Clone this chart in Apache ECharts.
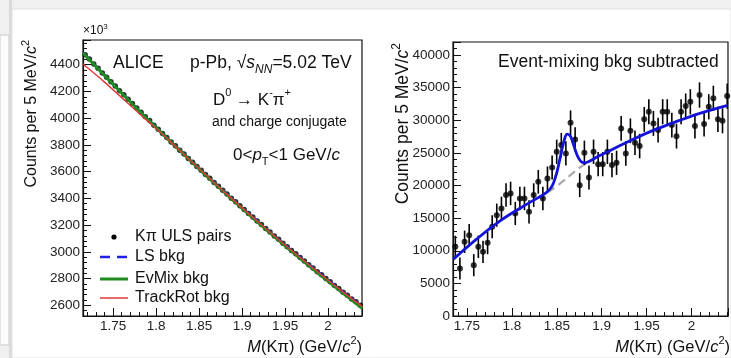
<!DOCTYPE html>
<html>
<head>
<meta charset="utf-8">
<script src="https://cdn.jsdelivr.net/npm/echarts@6/dist/echarts.min.js"></script>
<style>
  html, body { margin: 0; padding: 0; background: #f0f0f0; }
  #chart { width: 731px; height: 358px; }
</style>
</head>
<body>
<div id="chart"></div>
<script>
// left panel: invariant mass, counts in units of 10^3
const leftMass = [1.7175, 1.7225, 1.7275, 1.7325, 1.7375, 1.7425, 1.7475, 1.7525, 1.7575, 1.7625,
  1.7675, 1.7725, 1.7775, 1.7825, 1.7875, 1.7925, 1.7975, 1.8025, 1.8075, 1.8125,
  1.8175, 1.8225, 1.8275, 1.8325, 1.8375, 1.8425, 1.8475, 1.8525, 1.8575, 1.8625,
  1.8675, 1.8725, 1.8775, 1.8825, 1.8875, 1.8925, 1.8975, 1.9025, 1.9075, 1.9125,
  1.9175, 1.9225, 1.9275, 1.9325, 1.9375, 1.9425, 1.9475, 1.9525, 1.9575, 1.9625,
  1.9675, 1.9725, 1.9775, 1.9825, 1.9875, 1.9925, 1.9975, 2.0025, 2.0075, 2.0125,
  2.0175, 2.0225, 2.0275, 2.0325, 2.0375];
const ulsPairs = [4475, 4442, 4406, 4374, 4339, 4307, 4272, 4241, 4206, 4175,
  4141, 4110, 4076, 4045, 4011, 3982, 3948, 3918, 3885, 3855,
  3822, 3793, 3760, 3732, 3699, 3671, 3638, 3610, 3578, 3550,
  3519, 3491, 3460, 3433, 3401, 3375, 3344, 3317, 3287, 3260,
  3230, 3204, 3174, 3149, 3119, 3094, 3064, 3039, 3010, 2985,
  2957, 2932, 2904, 2880, 2852, 2828, 2800, 2776, 2749, 2725,
  2698, 2675, 2648, 2626, 2600];
const bkgMass = [1.715, 1.74, 1.765, 1.79, 1.815, 1.84, 1.865, 1.89, 1.915, 1.94, 1.965, 1.99, 2.015, 2.04];
const lsBkg = [4490, 4322, 4157, 3996, 3840, 3686, 3534, 3388, 3246, 3106, 2972, 2841, 2713, 2589];
const evMixBkg = [4488, 4320, 4155, 3993, 3836, 3682, 3530, 3383, 3240, 3100, 2964, 2832, 2703, 2576];
const trackRotBkg = [4405, 4270, 4125, 3980, 3834, 3683, 3533, 3387, 3245, 3106, 2971, 2840, 2712, 2590];

// right panel: event-mixing background subtracted (positions)
const rightMass = [1.7371, 1.7422, 1.7474, 1.7525, 1.7576, 1.7627, 1.7679, 1.7730, 1.7781, 1.7832,
  1.7884, 1.7935, 1.7986, 1.8038, 1.8089, 1.8140, 1.8191, 1.8243, 1.8294, 1.8345,
  1.8396, 1.8448, 1.8499, 1.8550, 1.8601, 1.8653, 1.8704, 1.8755, 1.8807, 1.8858,
  1.8909, 1.8960, 1.9011, 1.9063, 1.9114, 1.9165, 1.9216, 1.9268, 1.9319, 1.9370,
  1.9422, 1.9473, 1.9524, 1.9575, 1.9627, 1.9678, 1.9729, 1.9780, 1.9832, 1.9883,
  1.9934, 1.9986, 2.0037, 2.0088, 2.0139, 2.0191, 2.0242, 2.0293, 2.0344, 2.0396];
const signalCounts = [10600, 7280, 11370, 12390, 7790, 10600, 9830, 11210, 13670, 15460,
  16490, 18530, 18790, 15720, 18020, 18020, 15970, 18530, 20570, 18020,
  21090, 22780, 25170, 26200, 24920, 29620, 27070, 20060, 25020, 21240,
  25170, 23280, 23280, 25170, 23130, 23490, 28760, 24920, 28390, 26550,
  26040, 30140, 31310, 29520, 28500, 31310, 31310, 29260, 27570, 31310,
  32180, 32840, 29110, 33870, 29420, 32070, 33360, 30140, 29930, 33710];
const countErrors = [1700, 1700, 1720, 1720, 1700, 1720, 1720, 1740, 1760, 1780,
  1790, 1800, 1800, 1780, 1800, 1800, 1790, 1810, 1820, 1810,
  1830, 1840, 1860, 1870, 1860, 1900, 1880, 1830, 1870, 1840,
  1870, 1860, 1860, 1870, 1860, 1860, 1900, 1870, 1900, 1880,
  1880, 1910, 1920, 1910, 1900, 1920, 1920, 1910, 1900, 1920,
  1930, 1930, 1910, 1940, 1910, 1930, 1940, 1920, 1920, 1940];
const fitMass = [1.735, 1.76, 1.785, 1.81, 1.825, 1.835, 1.84, 1.845, 1.849, 1.852, 1.855, 1.858,
  1.8615, 1.865, 1.868, 1.871, 1.874, 1.878, 1.882, 1.885, 1.89, 1.895, 1.91, 1.935,
  1.96, 1.985, 2.01, 2.04];
const fitCounts = [8700, 11700, 14400, 16600, 17800, 18610, 19110, 20000, 21500, 23150, 25070, 26800,
  27870, 27580, 26510, 25250, 24260, 23570, 23490, 23650, 24000, 24400, 25400, 27100,
  28600, 29900, 31100, 32300];
const bkgOnlyMass = [1.84, 1.845, 1.86, 1.875, 1.885, 1.89];
const bkgOnlyCounts = [19000, 19400, 21000, 22700, 23600, 24000];

const FONT = 'Liberation Sans, Arial, Helvetica, sans-serif';
const INK = '#111';

function multipleOf(step) {
  return v => {
    const k = v / step;
    return Math.abs(k - Math.round(k)) < 1e-6 ? String(+v.toFixed(3)) : '';
  };
}

function rootAxis(gridIndex, min, max, extra, labelStep) {
  return Object.assign({
    type: 'value',
    gridIndex: gridIndex,
    min: min,
    max: max,
    axisLine: { show: true, onZero: false, lineStyle: { color: INK, width: 1.2 } },
    axisTick: { show: true, inside: true, length: 8, lineStyle: { color: INK, width: 1 } },
    minorTick: { show: true, splitNumber: 5, length: 4, lineStyle: { color: INK, width: 1 } },
    splitLine: { show: false },
    axisLabel: { color: '#222', fontSize: 13.5, fontFamily: FONT, margin: 3, formatter: multipleOf(labelStep) }
  }, extra);
}

// rich styles do not inherit the size, so build them per label size
function richFor(size) {
  const small = Math.round(size * 0.66);
  return {
    n: { fontSize: size, fontFamily: FONT, fill: '#111' },
    i: { fontSize: size, fontStyle: 'italic', fontFamily: FONT, fill: '#111' },
    sup: { fontSize: small, verticalAlign: 'top', fontFamily: FONT, fill: '#111' },
    sub: { fontSize: small, verticalAlign: 'bottom', fontFamily: FONT, fill: '#111' },
    isub: { fontSize: small, fontStyle: 'italic', verticalAlign: 'bottom', fontFamily: FONT, fill: '#111' }
  };
}

function label(x, y, text, size, opts) {
  opts = opts || {};
  return {
    type: 'text', x: x, y: y, z: 100,
    rotation: opts.rotation || 0,
    style: {
      text: text, fontSize: size, fontFamily: FONT, fill: '#111',
      align: opts.align || 'left', verticalAlign: 'middle',
      lineHeight: Math.round(size * 1.45), rich: richFor(size)
    }
  };
}

function legendLine(y, color, width, dash) {
  return {
    type: 'line', z: 100,
    shape: { x1: 100, y1: y, x2: 128, y2: y },
    style: { stroke: color, lineWidth: width, lineDash: dash || null }
  };
}

const chart = echarts.init(document.getElementById('chart'));

const option = {
  animation: false,
  backgroundColor: '#f0f0f0',
  grid: [
    { left: 83, top: 40, width: 279, height: 276, show: true, borderColor: INK, borderWidth: 1.2, backgroundColor: 'transparent' },
    { left: 453, top: 42, width: 277, height: 274, show: true, borderColor: INK, borderWidth: 1.2, backgroundColor: 'transparent' }
  ],
  xAxis: [
    rootAxis(0, 1.715, 2.0395, { splitNumber: 6 }, 0.05),
    rootAxis(1, 1.7345, 2.0405, { splitNumber: 6 }, 0.05)
  ],
  yAxis: [
    rootAxis(0, 2520, 4585, { splitNumber: 10 }, 200),
    rootAxis(1, 0, 42000, { interval: 5000 }, 5000)
  ],
  graphic: [
    // page frame behind the card
    { type: 'rect', z: -10, shape: { x: 0, y: 35, width: 9, height: 310 }, style: { fill: '#fcfcfc', stroke: '#c9c9c9', lineWidth: 1 } },
    { type: 'rect', z: -10, shape: { x: 9, y: 0, width: 3, height: 358 }, style: { fill: '#dadada' } },
    { type: 'rect', z: -10, shape: { x: 12, y: 9, width: 719, height: 349 }, style: { fill: '#ffffff', stroke: '#e2e2e2', lineWidth: 1 } },

    // left panel texts
    label(83, 31, '×10{sup|3}', 12),
    label(32, 40, 'Counts per 5 MeV/{i|c}{sup|2}', 16, { rotation: Math.PI / 2, align: 'right' }),
    label(113, 63, 'ALICE', 17.5),
    label(190, 63, 'p-Pb, √{i|s}{isub|NN}=5.02 TeV', 17.5),
    label(213, 100, 'D{sup|0} → K{sup|-}π{sup|+}', 17),
    label(212, 122, 'and charge conjugate', 14),
    label(233, 155, '0<{i|p}{sub|T}<1 GeV/{i|c}', 17),
    label(362, 347, '{i|M}(Kπ) (GeV/{i|c}{sup|2})', 16.5, { align: 'right' }),

    // left panel legend
    { type: 'circle', z: 100, shape: { cx: 114, cy: 237, r: 2.6 }, style: { fill: '#000' } },
    label(135, 237, 'Kπ ULS pairs', 16),
    legendLine(257, '#1f1fe6', 2.6, [10, 7]),
    label(135, 257, 'LS bkg', 16),
    legendLine(279, '#1f8c1f', 3),
    label(135, 279, 'EvMix bkg', 16),
    legendLine(298, '#e0383c', 1.5),
    label(135, 298, 'TrackRot bkg', 16),

    // right panel texts
    label(403, 43, 'Counts per 5 MeV/{i|c}{sup|2}', 17.5, { rotation: Math.PI / 2, align: 'right' }),
    label(498, 62, 'Event-mixing bkg subtracted', 17.5),
    label(730, 347, '{i|M}(Kπ) (GeV/{i|c}{sup|2})', 16.5, { align: 'right' })
  ],
  series: [
    {
      name: 'Kπ ULS pairs',
      type: 'scatter',
      xAxisIndex: 0, yAxisIndex: 0,
      symbolSize: 5.5,
      itemStyle: { color: '#000' },
      z: 2,
      data: leftMass.map((m, i) => [m, ulsPairs[i]])
    },
    {
      name: 'LS bkg',
      type: 'line',
      xAxisIndex: 0, yAxisIndex: 0,
      symbol: 'none', smooth: 0.3,
      lineStyle: { color: '#1f1fe6', width: 2.4, type: [8, 6] },
      z: 3,
      data: bkgMass.map((m, i) => [m, lsBkg[i]])
    },
    {
      name: 'EvMix bkg',
      type: 'line',
      xAxisIndex: 0, yAxisIndex: 0,
      symbol: 'none', smooth: 0.3,
      lineStyle: { color: '#1f8c1f', width: 3 },
      z: 4,
      data: bkgMass.map((m, i) => [m, evMixBkg[i]])
    },
    {
      name: 'TrackRot bkg',
      type: 'line',
      xAxisIndex: 0, yAxisIndex: 0,
      symbol: 'none', smooth: 0.3,
      lineStyle: { color: '#e0383c', width: 1.4 },
      z: 5,
      data: bkgMass.map((m, i) => [m, trackRotBkg[i]])
    },
    {
      name: 'background only',
      type: 'line',
      xAxisIndex: 1, yAxisIndex: 1,
      symbol: 'none', smooth: 0.3,
      lineStyle: { color: '#a8a8a8', width: 2.2, type: [8, 5] },
      z: 2,
      data: bkgOnlyMass.map((m, i) => [m, bkgOnlyCounts[i]])
    },
    {
      name: 'errors',
      type: 'custom',
      xAxisIndex: 1, yAxisIndex: 1,
      z: 3,
      encode: { x: 0, y: 1 },
      renderItem: (params, api) => {
        const top = api.coord([api.value(0), api.value(1) + api.value(2)]);
        const bottom = api.coord([api.value(0), api.value(1) - api.value(2)]);
        return {
          type: 'line',
          shape: { x1: top[0], y1: top[1], x2: bottom[0], y2: bottom[1] },
          style: { stroke: '#000', lineWidth: 1.6 }
        };
      },
      data: rightMass.map((m, i) => [m, signalCounts[i], countErrors[i]])
    },
    {
      name: 'data',
      type: 'scatter',
      xAxisIndex: 1, yAxisIndex: 1,
      symbolSize: 6,
      itemStyle: { color: '#000' },
      z: 4,
      data: rightMass.map((m, i) => [m, signalCounts[i]])
    },
    {
      name: 'fit',
      type: 'line',
      xAxisIndex: 1, yAxisIndex: 1,
      symbol: 'none', smooth: 0.4,
      lineStyle: { color: '#1414d8', width: 2.8 },
      z: 5,
      data: fitMass.map((m, i) => [m, fitCounts[i]])
    }
  ]
};

chart.setOption(option);
</script>
</body>
</html>
